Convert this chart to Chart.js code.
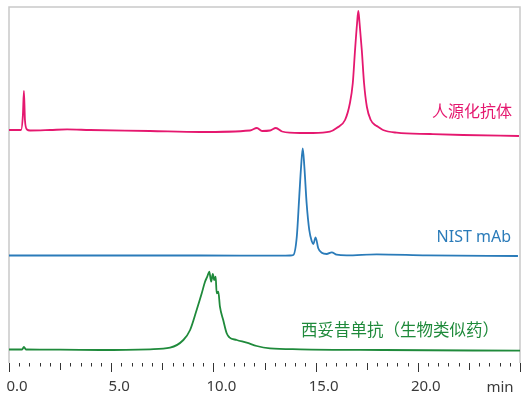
<!DOCTYPE html>
<html><head><meta charset="utf-8">
<script src="https://cdn.jsdelivr.net/npm/chart.js@4"></script>
<style>html,body{margin:0;padding:0;background:#fff;}</style>
</head><body>
<canvas id="c" width="529" height="397"></canvas>
<script>
// Retention time (min) and detector response (arbitrary units, traces stacked)
const pinkTime   = [0.00,0.59,0.68,0.73,0.78,0.88,1.03,2.01,2.84,3.96,6.90,9.34,11.79,12.13,12.38,12.77,13.06,13.36,14.24,14.87,15.70,16.03,16.44,16.68,16.82,16.93,17.03,17.09,17.15,17.26,17.37,17.51,17.70,17.91,18.05,18.30,18.97,20.60,22.21,24.95];
const pinkSignal = [233,233,248,272,243,233.5,232.5,233,233.6,233,232,231,232.5,235,232,232.5,235,231.5,230,230,231.3,235,243,260,280,313,340,352,340,313,280,256,243,238,236.3,233,230.3,229,228,227];

const blueTime   = [0.00,4.45,9.34,13.26,13.75,13.91,14.08,14.20,14.29,14.37,14.45,14.56,14.69,14.81,14.89,15.00,15.13,15.30,15.54,15.79,16.03,16.52,17.99,20.44,24.90];
const blueSignal = [107.5,107.5,107.5,107.3,107.5,108,126.3,166.3,196.3,214.7,196.3,160,133,122,119,125.7,114.7,110.3,109,110.7,108.3,107.7,108.7,107.7,107];

const greenTime   = [0.00,0.64,0.73,0.83,2.50,4.45,6.90,7.88,8.53,8.86,9.18,9.43,9.59,9.70,9.80,9.89,9.97,10.04,10.11,10.16,10.24,10.32,10.48,10.65,10.78,11.14,11.63,12.12,12.77,14.24,18.31,25.00];
const greenSignal = [13.5,13.5,16,13.5,13.3,13,13.7,15.3,23,33,53,69.7,81.3,86.3,91.3,81.3,89,83,86.3,69.7,71.3,56.3,43,29.7,25.7,23,20.3,17,14.7,13.7,13,12.3];

const seriesNames = ['人源化抗体', 'NIST mAb', '西妥昔单抗（生物类似药）'];
const tickValues = [0, 5, 10, 15, 20];
const tickLabels = ['0.0', '5.0', '10.0', '15.0', '20.0'];
const axisUnit = 'min';

const colors = ['#e5186f', '#2a7bb9', '#1f8a3b'];

function pts(t, v) { return t.map((x, i) => ({x: x, y: v[i]})); }

const decor = {
  id: 'decor',
  beforeDatasetsDraw(chart) {
    const {ctx, chartArea: a} = chart;
    ctx.save();
    ctx.strokeStyle = '#c9c9c9';
    ctx.lineWidth = 1.5;
    ctx.beginPath();
    ctx.moveTo(a.left, a.bottom);
    ctx.lineTo(a.left, a.top);
    ctx.lineTo(a.right, a.top);
    ctx.lineTo(a.right, a.bottom);
    ctx.stroke();
    ctx.restore();
  },
  afterDraw(chart) {
    const {ctx, chartArea: a} = chart;
    const xs = chart.scales.x;
    ctx.save();
    // ticks
    ctx.strokeStyle = '#333';
    ctx.lineWidth = 1;
    for (let i = 0; i <= 50; i++) {
      const v = i * 0.5;
      const px = Math.round(xs.getPixelForValue(v)) + 0.5;
      const len = (i % 10 === 0) ? 9 : (i % 5 === 0 ? 7 : 3.5);
      ctx.beginPath();
      ctx.moveTo(px, a.bottom);
      ctx.lineTo(px, a.bottom + len);
      ctx.stroke();
    }
    // tick labels
    ctx.fillStyle = '#3a3a3a';
    ctx.font = '15px "Noto Sans", "Open Sans", sans-serif';
    ctx.textAlign = 'center';
    ctx.textBaseline = 'alphabetic';
    tickValues.forEach((v, i) => {
      ctx.fillText(tickLabels[i], xs.getPixelForValue(v) + 8, 390.5);
    });
    ctx.fillText(axisUnit, 500, 392);
    // series names
    ctx.font = '16px "Noto Sans CJK SC", "Noto Sans", sans-serif';
    ctx.textBaseline = 'middle';
    ctx.textAlign = 'right';
    ctx.fillStyle = colors[0];
    ctx.fillText(seriesNames[0], 512, 111);
    ctx.font = '16px "Noto Sans", "Open Sans", sans-serif';
    ctx.textBaseline = 'alphabetic';
    ctx.fillStyle = colors[1];
    ctx.fillText(seriesNames[1], 511, 242);
    ctx.font = '16.5px "Noto Sans CJK SC", "Noto Sans", sans-serif';
    ctx.textBaseline = 'middle';
    ctx.textAlign = 'left';
    ctx.fillStyle = colors[2];
    ctx.fillText(seriesNames[2], 301, 330);
    ctx.restore();
  }
};

new Chart(document.getElementById('c'), {
  type: 'line',
  data: {
    datasets: [
      {label: seriesNames[0], data: pts(pinkTime, pinkSignal), borderColor: colors[0]},
      {label: seriesNames[1], data: pts(blueTime, blueSignal), borderColor: colors[1]},
      {label: seriesNames[2], data: pts(greenTime, greenSignal), borderColor: colors[2]}
    ].map(d => Object.assign(d, {borderWidth: 1.8, pointRadius: 0, fill: false, cubicInterpolationMode: 'monotone', clip: false}))
  },
  options: {
    responsive: false,
    animation: false,
    devicePixelRatio: 1,
    layout: {padding: {left: 9, right: 9, top: 7, bottom: 34}},
    plugins: {legend: {display: false}, tooltip: {enabled: false}},
    scales: {
      x: {type: 'linear', min: 0, max: 25, display: false},
      y: {min: 0, max: 356, display: false}
    }
  },
  plugins: [decor]
});
</script>
</body></html>
